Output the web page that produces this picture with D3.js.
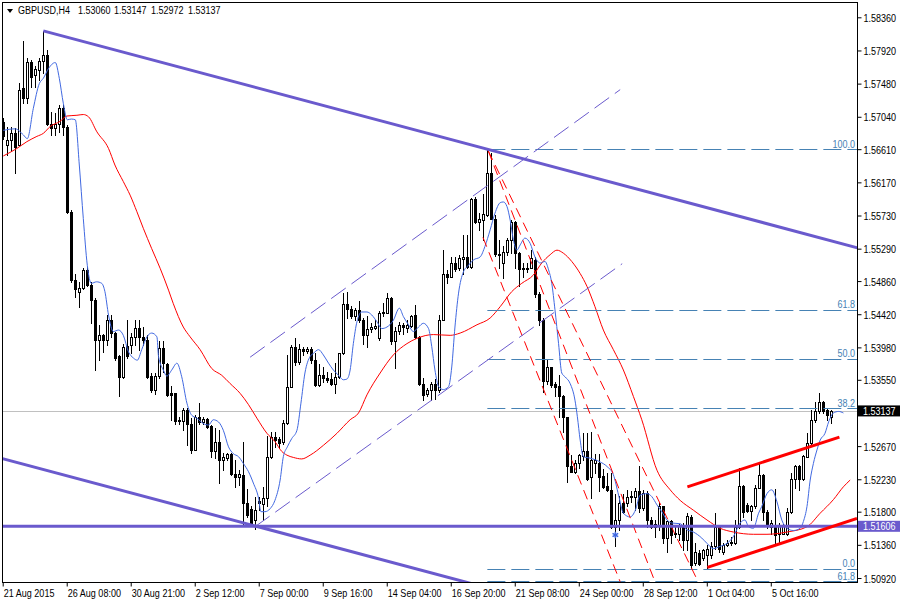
<!DOCTYPE html>
<html>
<head>
<meta charset="utf-8">
<script src="https://cdn.jsdelivr.net/npm/d3@7"></script>
<style>
  body { margin: 0; background: #fff; }
  svg text { font-family: "Liberation Sans", Arial, sans-serif; font-size: 11px; }
</style>
</head>
<body>
<div id="chart"></div>
<script>
// ---- data (GBPUSD H4) ----
var opens = [1.5697,1.5667,1.5673,1.5682,1.5667,1.5742,1.5729,1.5777,1.5760,1.5766,1.5778,1.5786,1.5695,1.5689,1.5695,1.5715,1.5691,1.5578,1.5487,1.5472,
1.5477,1.5501,1.5481,1.5461,1.5408,1.5414,1.5408,1.5435,1.5417,1.5386,1.5359,1.5400,1.5401,1.5412,1.5424,1.5412,1.5408,1.5360,1.5342,1.5360,
1.5397,1.5376,1.5337,1.5337,1.5302,1.5300,1.5315,1.5297,1.5262,1.5306,1.5299,1.5303,1.5294,1.5261,1.5272,1.5248,1.5251,1.5257,1.5230,1.5226,
1.5229,1.5191,1.5184,1.5169,1.5194,1.5190,1.5198,1.5253,1.5279,1.5276,1.5272,1.5298,1.5346,1.5398,1.5378,1.5396,1.5393,1.5396,1.5381,1.5348,
1.5361,1.5358,1.5356,1.5349,1.5359,1.5390,1.5456,1.5449,1.5439,1.5448,1.5434,1.5414,1.5423,1.5424,1.5411,1.5443,1.5444,1.5463,1.5406,1.5420,
1.5428,1.5424,1.5426,1.5441,1.5412,1.5349,1.5336,1.5341,1.5349,1.5341,1.5435,1.5496,1.5492,1.5510,1.5503,1.5515,1.5518,1.5505,1.5595,1.5564,
1.5567,1.5574,1.5630,1.5569,1.5522,1.5510,1.5524,1.5541,1.5565,1.5523,1.5504,1.5502,1.5504,1.5514,1.5469,1.5435,1.5353,1.5372,1.5350,1.5347,
1.5334,1.5305,1.5241,1.5233,1.5245,1.5254,1.5260,1.5226,1.5244,1.5245,1.5227,1.5214,1.5209,1.5160,1.5169,1.5192,1.5191,1.5201,1.5199,1.5207,
1.5185,1.5205,1.5169,1.5160,1.5162,1.5187,1.5145,1.5167,1.5152,1.5150,1.5161,1.5143,1.5173,1.5112,1.5125,1.5118,1.5123,1.5123,1.5134,1.5160,
1.5127,1.5136,1.5138,1.5139,1.5160,1.5214,1.5189,1.5181,1.5187,1.5212,1.5229,1.5180,1.5160,1.5162,1.5151,1.5150,1.5151,1.5180,1.5223,1.5240,
1.5223,1.5253,1.5271,1.5301,1.5313,1.5325,1.5315,1.53060];
var highs = [1.5702,1.5691,1.5691,1.5689,1.5749,1.5804,1.5782,1.5779,1.5771,1.5782,1.5818,1.5793,1.5711,1.5709,1.5720,1.5720,1.5693,1.5580,1.5496,1.5485,
1.5503,1.5505,1.5485,1.5463,1.5428,1.5416,1.5441,1.5441,1.5419,1.5388,1.5403,1.5434,1.5417,1.5434,1.5434,1.5425,1.5414,1.5364,1.5364,1.5406,
1.5406,1.5377,1.5347,1.5338,1.5306,1.5317,1.5317,1.5304,1.5308,1.5324,1.5306,1.5304,1.5295,1.5291,1.5288,1.5258,1.5258,1.5258,1.5248,1.5235,
1.5273,1.5210,1.5187,1.5200,1.5200,1.5213,1.5280,1.5286,1.5286,1.5279,1.5301,1.5388,1.5401,1.5411,1.5403,1.5399,1.5399,1.5399,1.5390,1.5376,
1.5372,1.5366,1.5364,1.5377,1.5391,1.5470,1.5472,1.5453,1.5450,1.5460,1.5437,1.5440,1.5431,1.5434,1.5446,1.5457,1.5470,1.5465,1.5425,1.5432,
1.5430,1.5434,1.5441,1.5454,1.5413,1.5357,1.5344,1.5352,1.5356,1.5441,1.5527,1.5501,1.5518,1.5518,1.5521,1.5547,1.5547,1.5596,1.5597,1.5576,
1.5602,1.5661,1.5656,1.5574,1.5541,1.5532,1.5543,1.5567,1.5566,1.5525,1.5510,1.5510,1.5527,1.5518,1.5471,1.5437,1.5381,1.5372,1.5352,1.5361,
1.5335,1.5306,1.5255,1.5249,1.5257,1.5284,1.5285,1.5286,1.5257,1.5257,1.5237,1.5231,1.5231,1.5204,1.5201,1.5204,1.5209,1.5207,1.5211,1.5240,
1.5209,1.5207,1.5173,1.5169,1.5191,1.5188,1.5169,1.5169,1.5162,1.5164,1.5165,1.5178,1.5176,1.5138,1.5129,1.5131,1.5136,1.5140,1.5178,1.5162,
1.5138,1.5142,1.5147,1.5169,1.5238,1.5215,1.5192,1.5189,1.5215,1.5244,1.5230,1.5182,1.5169,1.5210,1.5165,1.5164,1.5185,1.5231,1.5242,1.5242,
1.5255,1.5284,1.5315,1.5326,1.5337,1.5327,1.5317,1.53147];
var lows = [1.5675,1.5653,1.5658,1.5629,1.5666,1.5722,1.5722,1.5744,1.5744,1.5753,1.5762,1.5693,1.5680,1.5680,1.5684,1.5680,1.5576,1.5485,1.5465,1.5451,
1.5476,1.5479,1.5431,1.5368,1.5381,1.5392,1.5401,1.5412,1.5381,1.5333,1.5357,1.5384,1.5390,1.5401,1.5395,1.5401,1.5357,1.5339,1.5336,1.5358,
1.5366,1.5334,1.5302,1.5297,1.5297,1.5288,1.5269,1.5258,1.5262,1.5296,1.5297,1.5291,1.5253,1.5251,1.5218,1.5235,1.5249,1.5229,1.5213,1.5215,
1.5162,1.5173,1.5162,1.5157,1.5182,1.5169,1.5187,1.5251,1.5266,1.5264,1.5270,1.5297,1.5345,1.5375,1.5376,1.5388,1.5390,1.5377,1.5347,1.5347,
1.5352,1.5352,1.5348,1.5337,1.5358,1.5389,1.5437,1.5437,1.5435,1.5432,1.5403,1.5399,1.5419,1.5422,1.5408,1.5439,1.5443,1.5403,1.5370,1.5416,
1.5416,1.5419,1.5425,1.5410,1.5348,1.5328,1.5333,1.5328,1.5330,1.5339,1.5434,1.5484,1.5491,1.5500,1.5501,1.5496,1.5503,1.5504,1.5563,1.5554,
1.5541,1.5572,1.5568,1.5519,1.5503,1.5490,1.5521,1.5523,1.5503,1.5479,1.5492,1.5498,1.5503,1.5465,1.5428,1.5339,1.5350,1.5346,1.5333,1.5306,
1.5286,1.5219,1.5232,1.5231,1.5238,1.5249,1.5222,1.5198,1.5231,1.5207,1.5211,1.5207,1.5158,1.5134,1.5156,1.5178,1.5187,1.5193,1.5182,1.5180,
1.5182,1.5160,1.5158,1.5147,1.5156,1.5138,1.5127,1.5138,1.5147,1.5142,1.5129,1.5129,1.5105,1.5109,1.5109,1.5116,1.5105,1.5118,1.5131,1.5127,
1.5124,1.5134,1.5136,1.5137,1.5158,1.5173,1.5179,1.5169,1.5185,1.5211,1.5169,1.5158,1.5151,1.5138,1.5138,1.5150,1.5149,1.5178,1.5211,1.5209,
1.5222,1.5252,1.5268,1.5299,1.5311,1.5311,1.5302,1.52972];
var closes = [1.5678,1.5673,1.5682,1.5664,1.5740,1.5729,1.5777,1.5757,1.5767,1.5778,1.5786,1.5695,1.5689,1.5695,1.5715,1.5691,1.5578,1.5487,1.5476,1.5477,
1.5501,1.5481,1.5461,1.5408,1.5414,1.5408,1.5435,1.5417,1.5384,1.5359,1.5399,1.5386,1.5412,1.5424,1.5412,1.5408,1.5359,1.5342,1.5360,1.5397,
1.5377,1.5335,1.5335,1.5300,1.5300,1.5315,1.5297,1.5262,1.5306,1.5299,1.5303,1.5293,1.5261,1.5273,1.5248,1.5252,1.5257,1.5230,1.5226,1.5230,
1.5191,1.5176,1.5165,1.5182,1.5191,1.5198,1.5253,1.5279,1.5275,1.5271,1.5298,1.5346,1.5398,1.5378,1.5396,1.5393,1.5396,1.5381,1.5348,1.5361,
1.5358,1.5355,1.5349,1.5359,1.5390,1.5456,1.5449,1.5439,1.5448,1.5434,1.5414,1.5423,1.5425,1.5427,1.5444,1.5445,1.5463,1.5406,1.5420,1.5428,
1.5425,1.5428,1.5440,1.5412,1.5349,1.5335,1.5341,1.5349,1.5341,1.5435,1.5496,1.5492,1.5510,1.5502,1.5516,1.5518,1.5505,1.5595,1.5564,1.5568,
1.5575,1.5630,1.5569,1.5522,1.5520,1.5525,1.5541,1.5565,1.5523,1.5502,1.5502,1.5504,1.5516,1.5469,1.5434,1.5353,1.5372,1.5348,1.5346,1.5333,
1.5305,1.5240,1.5233,1.5245,1.5255,1.5260,1.5224,1.5249,1.5249,1.5226,1.5213,1.5209,1.5160,1.5169,1.5191,1.5179,1.5200,1.5199,1.5207,1.5185,
1.5205,1.5169,1.5160,1.5164,1.5187,1.5145,1.5167,1.5149,1.5150,1.5162,1.5143,1.5174,1.5109,1.5126,1.5111,1.5129,1.5131,1.5134,1.5160,1.5131,
1.5136,1.5139,1.5140,1.5160,1.5214,1.5180,1.5181,1.5188,1.5212,1.5229,1.5180,1.5162,1.5165,1.5149,1.5161,1.5161,1.5180,1.5224,1.5240,1.5223,
1.5254,1.5271,1.5301,1.5313,1.5325,1.5313,1.5308,1.53137];

// moving averages (bar index, price)
var blueIdx = [0,3,5,6,7.5,9,10,11.3,13,14,15,16,17,18,19,20,21,22,23.3,24.6,25.4,26.3,27.5,28.8,30,31.3,32.5,33.5,34.6,35.9,37.1,38.4,38.8,40,40.9,42.1,43.4,44.6,45.9,47.1,48.4,50,51.3,52.5,53.8,55,56.3,57.5,58.8,60,61.3,62.5,63.8,64.4,65.4,66.7,67.9,69.2,70,71,72.1,73.4,74.4,75.4,76.7,77.5,78.8,80,81.3,82.5,83.8,85,85.9,86.7,87.5,88.4,89.6,90.9,92.1,93.4,94.6,95.9,97.5,99,100,101.3,102.5,103.8,105,106.3,107.1,107.9,108.8,110,111.3,112.1,112.9,113.8,115,116.3,117.5,119.2,120.4,121.7,122.9,124.2,125,125.9,126.7,127.5,128.4,129.2,130.4,131.7,132.9,134.2,135.4,136.3,137.1,137.9,138.8,139.6,140.4,141.7,142.9,143.5,144.2,145,146.7,149.2,150.9,152.5,153.8,155,156.7,158,159.2,160.9,162.1,163.4,164.6,165.9,167.1,169.2,170.9,172.5,174.6,175.9,177.5,179.2,180.9,182.5,184.2,185.4,186.3,187.5,188.8,189.6,190.9,192.1,193.4,194.6,195.9,197.5,199.2,200,200.9,201.7,202.5,203.4,204.2,205.4,206.3,207.5,208.8,210];
var blueVal = [1.5686,1.5688,1.5680,1.5675,1.5715,1.5748,1.5755,1.5768,1.5776,1.5755,1.5722,1.5700,1.5701,1.5700,1.5640,1.5569,1.5507,1.5483,1.5485,1.5483,1.5472,1.5441,1.5419,1.5421,1.5414,1.5392,1.5384,1.5381,1.5395,1.5412,1.5417,1.5412,1.5386,1.5368,1.5360,1.5368,1.5377,1.5359,1.5324,1.5308,1.5304,1.5297,1.5295,1.5302,1.5299,1.5288,1.5266,1.5257,1.5253,1.5244,1.5233,1.5218,1.5198,1.5180,1.5180,1.5184,1.5195,1.5222,1.5253,1.5266,1.5277,1.5288,1.5324,1.5364,1.5386,1.5390,1.5395,1.5388,1.5377,1.5368,1.5361,1.5355,1.5356,1.5368,1.5403,1.5432,1.5445,1.5445,1.5441,1.5432,1.5423,1.5425,1.5434,1.5450,1.5439,1.5428,1.5419,1.5425,1.5430,1.5423,1.5399,1.5368,1.5346,1.5342,1.5346,1.5372,1.5425,1.5470,1.5498,1.5507,1.5514,1.5518,1.5532,1.5554,1.5576,1.5590,1.5591,1.5585,1.5567,1.5541,1.5527,1.5534,1.5543,1.5536,1.5518,1.5510,1.5512,1.5501,1.5483,1.5448,1.5403,1.5364,1.5359,1.5350,1.5328,1.5306,1.5275,1.5253,1.5251,1.5246,1.5240,1.5229,1.5202,1.5178,1.5173,1.5182,1.5202,1.5204,1.5200,1.5189,1.5180,1.5169,1.5165,1.5164,1.5156,1.5153,1.5145,1.5138,1.5131,1.5134,1.5138,1.5147,1.5165,1.5169,1.5160,1.5158,1.5178,1.5187,1.5204,1.5209,1.5193,1.5169,1.5158,1.5155,1.5158,1.5167,1.5187,1.5222,1.5244,1.5262,1.5275,1.5284,1.5299,1.5311,1.5313,1.5311];
var redIdx = [0,3.4,5.9,8.4,10,11.7,14.2,15.9,18.4,20,21.3,23.4,26.3,27.9,30,31.7,33.4,35,37.1,39.2,41.3,42.5,45,46.7,49.2,52.1,54.6,56.7,59.2,61.3,63.4,65.9,67.9,69.6,70.9,72.5,74.6,76.7,80,83.4,86.7,88.8,90.9,94.2,97.5,100.9,103.4,107.5,111.7,114.2,118.4,121.7,124.2,127.1,129.6,132.5,134.6,136.7,138.4,140,142.1,144.2,145.9,147.9,150,152.5,155,157.5,159.6,163.4,166.7,169.2,172.5,175.9,179.2,182.5,187.5,190.9,195.9,200.9,204.2,207.5,210,211.7];
var redVal = [1.5652,1.5662,1.5671,1.5678,1.5682,1.5691,1.5698,1.5705,1.5706,1.5707,1.5704,1.5684,1.5662,1.5640,1.5618,1.5600,1.5578,1.5556,1.5529,1.5503,1.5474,1.5456,1.5425,1.5412,1.5395,1.5370,1.5361,1.5350,1.5337,1.5322,1.5304,1.5284,1.5273,1.5260,1.5255,1.5252,1.5250,1.5255,1.5268,1.5284,1.5302,1.5311,1.5335,1.5364,1.5388,1.5403,1.5410,1.5415,1.5414,1.5417,1.5428,1.5437,1.5452,1.5472,1.5483,1.5494,1.5510,1.5521,1.5527,1.5523,1.5512,1.5496,1.5479,1.5452,1.5421,1.5395,1.5368,1.5333,1.5302,1.5235,1.5209,1.5195,1.5182,1.5169,1.5158,1.5153,1.5150,1.5150,1.5153,1.5160,1.5178,1.5196,1.5213,1.5222];

// axis ticks
var yTicks = [1.58360,1.57920,1.57480,1.57040,1.56610,1.56170,1.55730,1.55290,1.54860,1.54420,1.53980,1.53550,1.52670,1.52230,1.51800,1.51360,1.50920];
var xTickIdx = [0,16,32,48,64,80,96,112,128,144,160,176,192];
var xTickLabels = ['21 Aug 2015','26 Aug 08:00','30 Aug 21:00','2 Sep 12:00','7 Sep 00:00','9 Sep 16:00','14 Sep 04:00','16 Sep 20:00','21 Sep 08:00','24 Sep 00:00','28 Sep 12:00','1 Oct 04:00','5 Oct 16:00'];

// header: symbol and the last bar's open, high, low, close
var titleParts = ['GBPUSD,H4', '1.53060', '1.53147', '1.52972', '1.53137'];

// objects drawn on the chart
var fibStart = 121;
var fibPrices = [1.5661,1.5448,1.5383,1.5317,1.5104,1.5088];
var fibLabels = ['100.0','61.8','50.0','38.2','0.0','61.8'];
var hLinePrice = 1.51606;
var lastPrice = 1.53137;
var chanTop = [[10,1.5818],[121,1.5661]];
var chanLowPoint = [63,1.5161];
var dashTop = [[61.7,1.5385],[154.2,1.5740]];
var dashLow = [[62.9,1.5160],[154.7,1.5509]];
var redUp = [[171,1.5213],[209,1.5279]];
var redDown = [[176,1.5106],[213.4,1.5171]];
var fanLines = [
  [[119.9,1.5544],[154.2,1.5087]],
  [[121.2,1.5659],[162.9,1.5087]],
  [[121.2,1.5659],[173.7,1.5087]]
];
var starMark = [153,1.5149];

// ---- drawing ----
var W = 900, H = 600;
var plot = {left: 2, top: 2, right: 857, bottom: 582};
var narrow = 0.82;   // chart font is a condensed sans

var x = d3.scaleLinear().domain([0, 213.4]).range([3.3, 857]);
var y = d3.scaleLinear().domain([1.50920, 1.58360]).range([578, 17.3]);

var bars = opens.map(function(o, i) {
  return {i: i, o: o, h: highs[i], l: lows[i], c: closes[i]};
});

var svg = d3.select('#chart').append('svg')
    .attr('width', W)
    .attr('height', H);

svg.append('defs').append('clipPath').attr('id', 'plotClip')
  .append('rect')
    .attr('x', plot.left).attr('y', plot.top)
    .attr('width', plot.right - plot.left)
    .attr('height', plot.bottom - plot.top);

var g = svg.append('g').attr('clip-path', 'url(#plotClip)');

function px(v) { return Math.round(v) + 0.5; }

// straight line through two (index, price) points, evaluated at index i
function along(seg, i) {
  var a = seg[0], b = seg[1];
  return a[1] + (b[1] - a[1]) * (i - a[0]) / (b[0] - a[0]);
}

// text placed at (tx, ty) and squeezed horizontally
function label(parent, tx, ty, str, anchor, color) {
  return parent.append('text')
      .attr('transform', 'translate(' + tx + ',' + ty + ') scale(' + narrow + ',1)')
      .attr('text-anchor', anchor || 'start')
      .attr('fill', color || '#000')
      .text(str);
}

// last price line (behind bars)
g.append('line')
    .attr('x1', plot.left).attr('x2', plot.right)
    .attr('y1', px(y(lastPrice))).attr('y2', px(y(lastPrice)))
    .attr('stroke', '#c0c0c0');

// candles
var candle = g.append('g').selectAll('g')
    .data(bars)
  .enter().append('g');

candle.append('line')
    .attr('x1', function(d) { return px(x(d.i)); })
    .attr('x2', function(d) { return px(x(d.i)); })
    .attr('y1', function(d) { return Math.round(y(d.h)); })
    .attr('y2', function(d) { return Math.round(y(d.l)) + 1; })
    .attr('stroke', '#000');

candle.append('rect')
    .attr('x', function(d) { return px(x(d.i)) - 1; })
    .attr('y', function(d) { return px(y(Math.max(d.o, d.c))); })
    .attr('width', 2)
    .attr('height', function(d) { return Math.max(0, Math.round(y(Math.min(d.o, d.c))) - Math.round(y(Math.max(d.o, d.c)))); })
    .attr('fill', function(d) { return d.c >= d.o ? '#fff' : '#000'; })
    .attr('stroke', '#000');

// moving averages
var maLine = d3.line()
    .x(function(d) { return x(d[0]); })
    .y(function(d) { return y(d[1]); })
    .curve(d3.curveMonotoneX);

g.append('path')
    .datum(redIdx.map(function(v, k) { return [v, redVal[k]]; }))
    .attr('fill', 'none')
    .attr('stroke', '#ff0000')
    .attr('stroke-width', 1)
    .attr('d', maLine);

g.append('path')
    .datum(blueIdx.map(function(v, k) { return [v, blueVal[k]]; }))
    .attr('fill', 'none')
    .attr('stroke', '#4169e1')
    .attr('stroke-width', 1)
    .attr('d', maLine);

// fibonacci levels
fibPrices.forEach(function(p, k) {
  g.append('line')
      .attr('x1', x(fibStart)).attr('x2', plot.right)
      .attr('y1', px(y(p))).attr('y2', px(y(p)))
      .attr('stroke', '#4682b4')
      .attr('stroke-dasharray', '18,6');
  label(g, plot.right - 2, y(p) - 1.5, fibLabels[k], 'end', '#4682b4');
});

// red dashed fan from the top
fanLines.forEach(function(seg) {
  g.append('line')
      .attr('x1', x(seg[0][0])).attr('y1', y(seg[0][1]))
      .attr('x2', x(seg[1][0])).attr('y2', y(seg[1][1]))
      .attr('stroke', '#ff0000')
      .attr('stroke-dasharray', '10,6');
});

// thin dashed channel
[dashTop, dashLow].forEach(function(seg) {
  g.append('line')
      .attr('x1', x(seg[0][0])).attr('y1', y(seg[0][1]))
      .attr('x2', x(seg[1][0])).attr('y2', y(seg[1][1]))
      .attr('stroke', '#6a5acd')
      .attr('stroke-dasharray', '18,7');
});

// main falling channel
var iEnd = 214, iStart = -2;
g.append('line')
    .attr('x1', x(chanTop[0][0])).attr('y1', y(chanTop[0][1]))
    .attr('x2', x(iEnd)).attr('y2', y(along(chanTop, iEnd)))
    .attr('stroke', '#6a5acd')
    .attr('stroke-width', 3);

var lowSeg = [chanLowPoint, [chanLowPoint[0] + 1, chanLowPoint[1] + (chanTop[1][1] - chanTop[0][1]) / (chanTop[1][0] - chanTop[0][0])]];
g.append('line')
    .attr('x1', x(iStart)).attr('y1', y(along(lowSeg, iStart)))
    .attr('x2', x(140)).attr('y2', y(along(lowSeg, 140)))
    .attr('stroke', '#6a5acd')
    .attr('stroke-width', 3);

// horizontal support
g.append('line')
    .attr('x1', plot.left).attr('x2', plot.right)
    .attr('y1', y(hLinePrice)).attr('y2', y(hLinePrice))
    .attr('stroke', '#6a5acd')
    .attr('stroke-width', 3);

// rising red channel
g.append('line')
    .attr('x1', x(redUp[0][0])).attr('y1', y(redUp[0][1]))
    .attr('x2', x(redUp[1][0])).attr('y2', y(redUp[1][1]))
    .attr('stroke', '#ff0000')
    .attr('stroke-width', 3);
g.append('line')
    .attr('x1', x(redDown[0][0])).attr('y1', y(redDown[0][1]))
    .attr('x2', x(redDown[1][0])).attr('y2', y(redDown[1][1]))
    .attr('stroke', '#ff0000')
    .attr('stroke-width', 3);

// star marker
g.append('path')
    .attr('transform', 'translate(' + x(starMark[0]) + ',' + y(starMark[1]) + ')')
    .attr('d', d3.symbol(d3.symbolAsterisk, 30)())
    .attr('fill', 'none')
    .attr('stroke', '#4169e1')
    .attr('stroke-width', 1.5);

// frame
svg.append('rect')
    .attr('x', plot.left + 0.5).attr('y', plot.top + 0.5)
    .attr('width', plot.right - plot.left).attr('height', plot.bottom - plot.top)
    .attr('fill', 'none')
    .attr('stroke', '#000');

// y axis
var yAxis = svg.append('g')
    .attr('transform', 'translate(' + (plot.right + 0.5) + ',0)')
    .call(d3.axisRight(y)
      .tickValues(yTicks)
      .tickSize(4)
      .tickSizeOuter(0)
      .tickFormat(d3.format('.5f')));
yAxis.select('.domain').remove();
yAxis.selectAll('text')
    .attr('x', null).attr('dy', null)
    .attr('transform', 'translate(6,4) scale(' + narrow + ',1)')
    .style('font-size', '11px').style('font-family', null);

// x axis
var xAxis = svg.append('g')
    .attr('transform', 'translate(0,' + (plot.bottom + 0.5) + ')')
    .call(d3.axisBottom(x)
      .tickValues(xTickIdx)
      .tickSize(4)
      .tickSizeOuter(0)
      .tickFormat(function(d, k) { return xTickLabels[k]; }));
xAxis.select('.domain').remove();
xAxis.selectAll('.tick line').attr('transform', 'translate(-0.6,0)');
xAxis.selectAll('text')
    .attr('text-anchor', 'start')
    .attr('x', null).attr('y', null).attr('dy', null)
    .attr('transform', 'translate(0,14) scale(' + narrow + ',1)')
    .style('font-size', '11px').style('font-family', null);

// price tags on the axis
function priceTag(p, bg) {
  var yy = y(p);
  svg.append('rect')
      .attr('x', plot.right + 1).attr('y', yy - 5.5)
      .attr('width', W - plot.right - 1).attr('height', 11)
      .attr('fill', bg);
  label(svg, plot.right + 6, yy + 4, d3.format('.5f')(p), 'start', '#fff');
}
priceTag(lastPrice, '#000');
priceTag(hLinePrice, '#6a5acd');

// title
svg.append('path')
    .attr('d', 'M7,9L13,9L10,13Z')
    .attr('fill', '#000');
var titleX = [18, 78, 114, 151, 188];
titleParts.forEach(function(t, k) {
  label(svg, titleX[k], 14, t);
});
</script>
</body>
</html>
